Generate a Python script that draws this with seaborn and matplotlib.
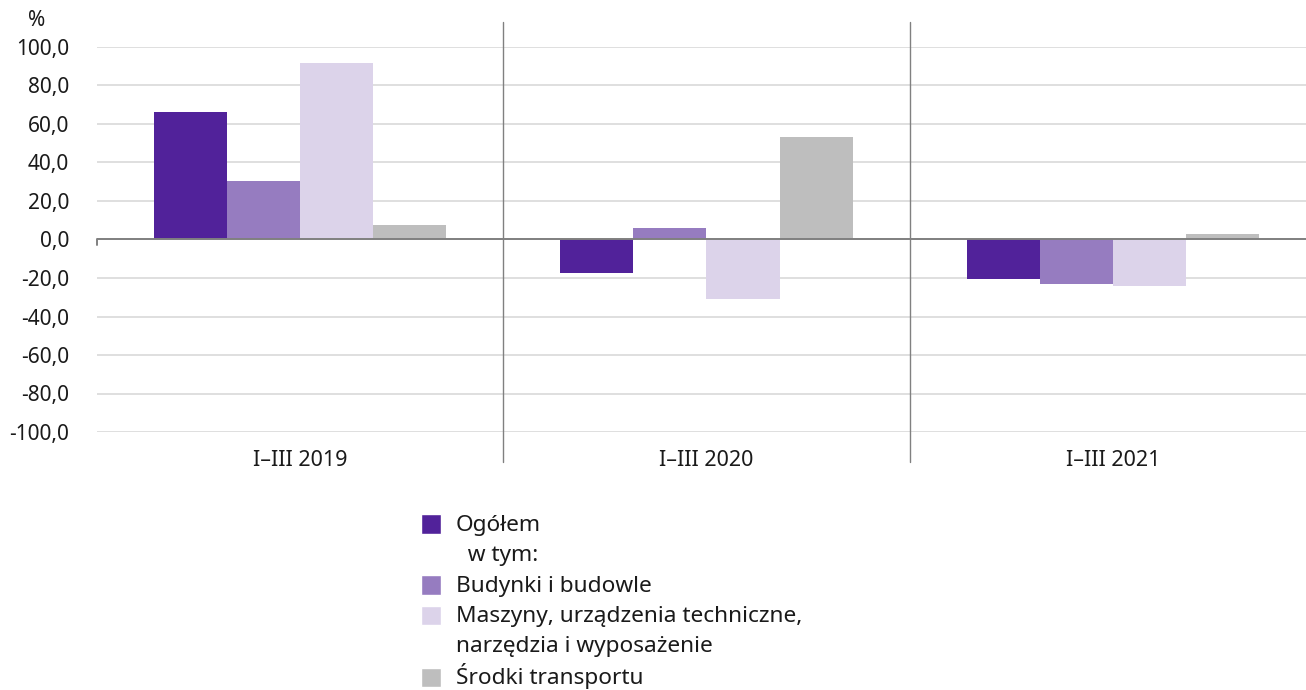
import pandas as pd
import numpy as np
import matplotlib.pyplot as plt
import seaborn as sns
from matplotlib.patches import Patch, Rectangle
from matplotlib.legend_handler import HandlerPatch

# data
periods = ['I–III 2019', 'I–III 2020', 'I–III 2021']
series = ['Ogółem', 'Budynki i budowle',
          'Maszyny, urządzenia techniczne, narzędzia i wyposażenie',
          'Środki transportu']
ogolem = [66.3, -17.4, -20.7]
budynki = [30.6, 6.2, -23.1]
maszyny = [91.5, -30.8, -23.9]
srodki = [7.3, 53.1, 2.8]
colors = ['#51229A', '#967CC0', '#DCD3EA', '#BEBEBE']
yticks = [-100, -80, -60, -40, -20, 0, 20, 40, 60, 80, 100]

rows = []
for name, vals in zip(series, [ogolem, budynki, maszyny, srodki]):
    for p, v in zip(periods, vals):
        rows.append({'okres': p, 'seria': name, 'wartosc': v})
df = pd.DataFrame(rows)

sns.set_style('white')
plt.rcParams['font.family'] = ['Noto Sans', 'DejaVu Sans']
plt.rcParams['text.color'] = '#1a1a1a'

fig = plt.figure(figsize=(13.06, 6.9), dpi=100)
ax = fig.add_axes([97 / 1306, 258 / 690, 1219 / 1306, 385 / 690])

sns.barplot(data=df, x='okres', y='wartosc', hue='seria', order=periods,
            hue_order=series, palette=colors, width=0.72, linewidth=0,
            saturation=1, ax=ax, legend=False)

ax.set_ylim(-100, 100)
ax.set_xlim(-0.5, 2.5)
ax.set_yticks(yticks)
ax.set_yticklabels([f'{t:.1f}'.replace('.', ',') for t in yticks], fontsize=15)
ax.yaxis.grid(True, color='#D9D9D9', linewidth=1.2)
ax.set_axisbelow(True)
ax.tick_params(axis='y', length=0, pad=20, labelcolor='#1a1a1a')
ax.tick_params(axis='x', length=0, pad=13, labelsize=15.5, labelcolor='#1a1a1a')
ax.set_xlabel('')
ax.set_ylabel('')
for s in ax.spines.values():
    s.set_visible(False)

ax.axhline(0, color='#808080', linewidth=1.4, zorder=3)
ax.plot([-0.5, -0.5], [0, -3], color='#808080', linewidth=1.4, clip_on=False)
for xs in [0.5, 1.5]:
    ax.plot([xs, xs], [-0.078, 1.065], color='#808080', linewidth=1.0,
            transform=ax.get_xaxis_transform(), clip_on=False)

fig.text(37 / 1306, 1 - 20 / 690, '%', fontsize=15, ha='center', va='center')


# fixed-size square inside a taller handle box, so every row has equal height
def square(legend, orig_handle, xdescent, ydescent, width, height, fontsize):
    side = 0.85 * fontsize
    return Rectangle((-xdescent, -ydescent + (height - side) / 2 - 0.05 * fontsize),
                     width, side)


# legend: one entry per text line, as in the reference
blank = Patch(facecolor='none', edgecolor='none')
handles = [Patch(facecolor=colors[0]), blank, Patch(facecolor=colors[1]),
           Patch(facecolor=colors[2]), blank, Patch(facecolor=colors[3])]
labels = ['Ogółem', '  w tym:', 'Budynki i budowle',
          'Maszyny, urządzenia techniczne,', 'narzędzia i wyposażenie',
          'Środki transportu']
fig.legend(handles, labels, loc='upper left',
           bbox_to_anchor=(421 / 1306, 1 - 511 / 690), frameon=False,
           fontsize=16.3, handlelength=0.9, handleheight=1.25,
           handletextpad=0.65, labelspacing=0.26, borderpad=0,
           borderaxespad=0, handler_map={Patch: HandlerPatch(patch_func=square)})

fig.savefig('out.png', dpi=100)
